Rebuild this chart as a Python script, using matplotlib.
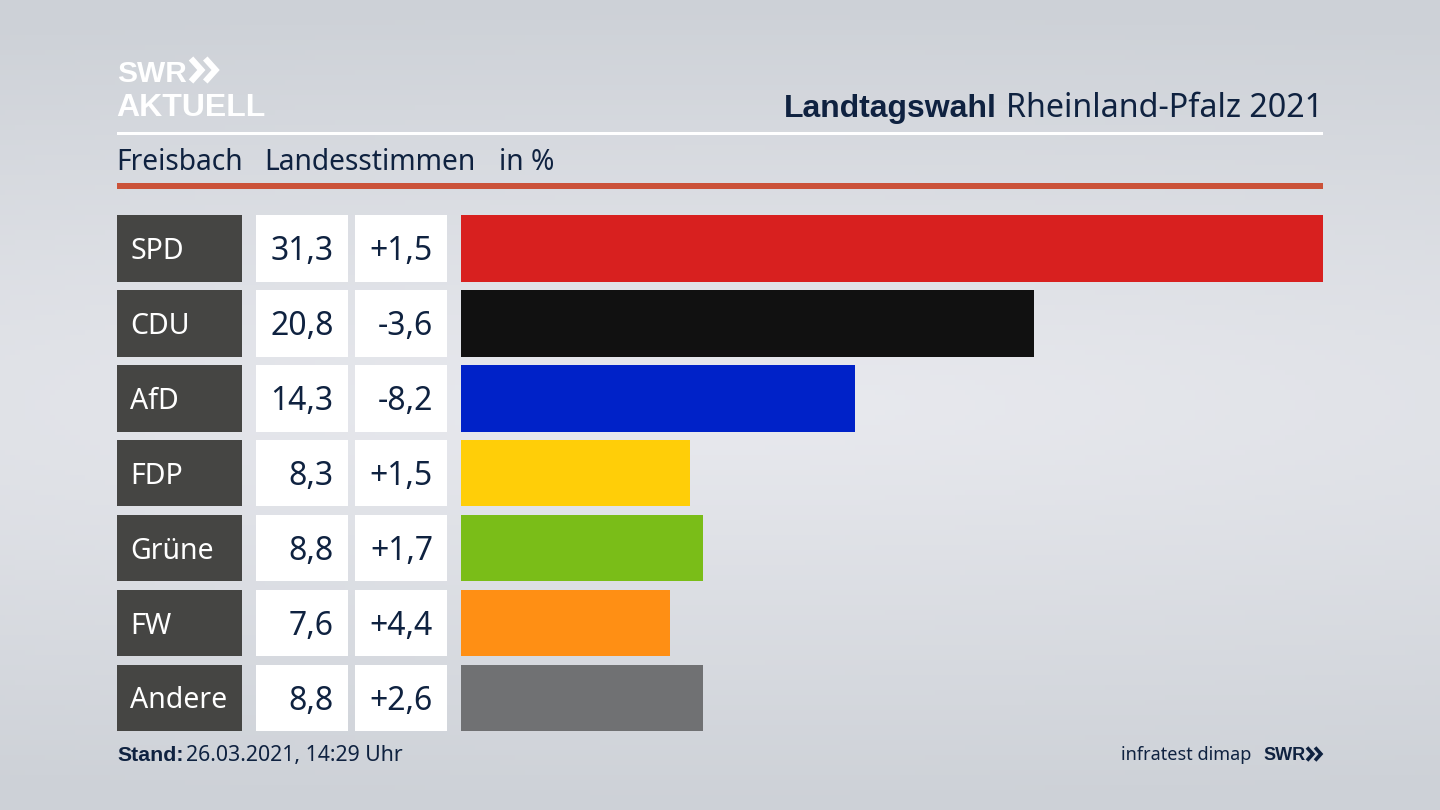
import numpy as np
import matplotlib
matplotlib.use('Agg')
import matplotlib.pyplot as plt
from matplotlib.patches import Rectangle

plt.rcParams['font.family'] = ['Noto Sans', 'DejaVu Sans']

parties = ['SPD', 'CDU', 'AfD', 'FDP', 'Grüne', 'FW', 'Andere']
shares = [31.3, 20.8, 14.3, 8.3, 8.8, 7.6, 8.8]
changes = ['+1,5', '-3,6', '-8,2', '+1,5', '+1,7', '+4,4', '+2,6']
colors = ['#d8201f', '#111111', '#0022c8', '#ffce08', '#7abd18', '#ff8f14', '#707173']

NAVY = '#0f2240'
BOLD_FONT = ['Liberation Sans']
W, H = 1440, 810

fig = plt.figure(figsize=(W / 100, H / 100), dpi=100)

# background, light band through the middle, darker to the edges
bg = fig.add_axes([0, 0, 1, 1], zorder=0)
yy, xx = np.mgrid[0:1:162j, 0:1:288j]
dist = np.sqrt(((yy - 0.5) / 0.5) ** 2 + (0.3 * (xx - 0.5) / 0.5) ** 2)
shade = np.clip(dist, 0, 1)[..., None]
light = np.array([233, 234, 239]) / 255
dark = np.array([205, 209, 215]) / 255
bg.imshow(light + (dark - light) * shade, aspect='auto', extent=(0, W, H, 0))
bg.set_xlim(0, W)
bg.set_ylim(H, 0)
bg.axis('off')


def txt(x, y, s, size, color=NAVY, ha='left', weight='normal', family=None):
    bg.text(x, y, s, fontsize=size, color=color, ha=ha, va='baseline', weight=weight,
            family=family if family else ['Noto Sans', 'DejaVu Sans'])


def chevrons(x, y, h, color, lw):
    # the two >> of the SWR logo
    for dx in (0, h * 0.62):
        bg.plot([x + dx, x + dx + h * 0.45, x + dx], [y - h, y - h / 2, y],
                color=color, lw=lw, solid_capstyle='butt', solid_joinstyle='miter')


# logo
txt(117, 82, 'SWR', 21.5, color='white', weight='bold', family=BOLD_FONT)
chevrons(191, 81.5, 23, 'white', 4.4)
txt(116, 116, 'AKTUELL', 23, color='white', weight='bold', family=BOLD_FONT)

# header
txt(1323, 117, 'Rheinland-Pfalz 2021', 23.2, ha='right')
txt(997, 117, 'Landtagswahl', 23, ha='right', weight='bold', family=BOLD_FONT)
bg.add_patch(Rectangle((117, 132), 1206, 3, color='white', lw=0))
txt(116, 170, 'Freisbach', 20.3)
txt(264, 170, 'Landesstimmen', 20.3)
txt(499, 170, 'in %', 20.3)
bg.add_patch(Rectangle((117, 183), 1206, 6, color='#cb5239', lw=0))

# table columns left of the bars
row_top, row_h, row_step = 215, 66.6, 74.95
for i, party in enumerate(parties):
    top = row_top + i * row_step
    base = top + row_h / 2 + 11.5
    bg.add_patch(Rectangle((117, top), 124.5, row_h, color='#454543', lw=0))
    bg.add_patch(Rectangle((256, top), 92, row_h, color='white', lw=0))
    bg.add_patch(Rectangle((355, top), 92, row_h, color='white', lw=0))
    txt(130.5, base - 1, party, 20.5, color='white')
    txt(333.5, base, f'{shares[i]:.1f}'.replace('.', ','), 23, ha='right')
    txt(433, base, changes[i], 23, ha='right')

# bars
ax = fig.add_axes([461 / W, 1 - (row_top + 6 * row_step + row_h) / H, (1323 - 461) / W,
                   (6 * row_step + row_h) / H], zorder=1)
ax.barh(range(len(parties)), shares, height=row_h / row_step, color=colors)
ax.set_xlim(0, max(shares))
pad = row_h / row_step / 2
ax.set_ylim(len(parties) - 1 + pad, -pad)
ax.axis('off')

# footer
txt(117, 761, 'Stand:', 15.3, weight='bold', family=BOLD_FONT)
txt(186, 761, '26.03.2021, 14:29 Uhr', 15.3)
txt(1251, 760, 'infratest dimap', 13, ha='right')
txt(1263, 760, 'SWR', 13, weight='bold', family=BOLD_FONT)
chevrons(1307, 760.5, 13, NAVY, 2.6)

fig.savefig('out.png', dpi=100)
